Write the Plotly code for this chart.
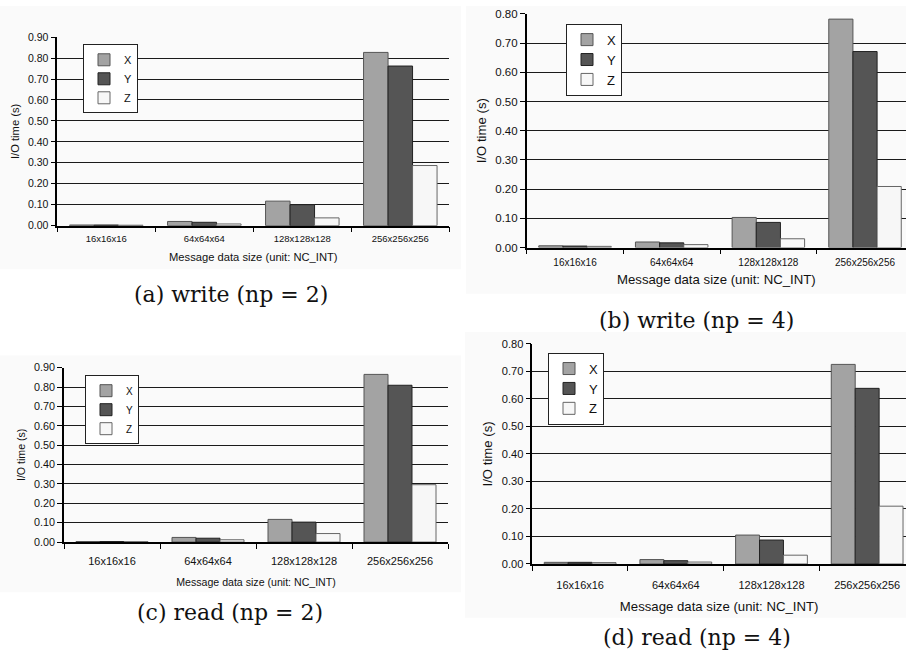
import plotly.graph_objects as go

W, H = 906, 661

categories = ["16x16x16", "64x64x64", "128x128x128", "256x256x256"]
series_names = ["X", "Y", "Z"]

# (a) write, np = 2
write_np2_x = [0.003, 0.020, 0.117, 0.827]
write_np2_y = [0.003, 0.016, 0.100, 0.762]
write_np2_z = [0.002, 0.008, 0.037, 0.287]
# (b) write, np = 4
write_np4_x = [0.006, 0.019, 0.103, 0.782]
write_np4_y = [0.005, 0.016, 0.086, 0.671]
write_np4_z = [0.004, 0.010, 0.030, 0.209]
# (c) read, np = 2
read_np2_x = [0.003, 0.024, 0.117, 0.865]
read_np2_y = [0.003, 0.020, 0.103, 0.809]
read_np2_z = [0.002, 0.012, 0.044, 0.296]
# (d) read, np = 4
read_np4_x = [0.006, 0.016, 0.105, 0.725]
read_np4_y = [0.006, 0.012, 0.087, 0.638]
read_np4_z = [0.005, 0.007, 0.032, 0.210]

captions = ["(a) write (np = 2)", "(b) write (np = 4)", "(c) read (np = 2)", "(d) read (np = 4)"]
y_title = "I/O time (s)"
x_title = "Message data size (unit: NC_INT)"

bar_fill = {"X": "#a3a3a3", "Y": "#555555", "Z": "#f7f7f7"}
bar_edge = {"X": "#555555", "Y": "#222222", "Z": "#666666"}

panels = [
    dict(data=[write_np2_x, write_np2_y, write_np2_z], l=57.3, r=449.3, t=31.7, b=223.7,
         xr=3.5, ymax=0.9, tf=10.5, xtf=9.5, ttf=11.2, leg=(83, 39), lf=11, cap=(231, 294),
         tls=3, xso=10),
    dict(data=[write_np4_x, write_np4_y, write_np4_z], l=526.7, r=906, t=8, b=246,
         xr=3.424, ymax=0.8, tf=11.5, xtf=10, ttf=13.2, leg=(566, 18), lf=13, cap=(696, 320),
         tls=5, xso=7),
    dict(data=[read_np2_x, read_np2_y, read_np2_z], l=64, r=448, t=368.3, b=546,
         xr=3.5, ymax=0.9, tf=10.8, xtf=11, ttf=10.6, leg=(85, 376), lf=10, cap=(230, 618),
         tls=8, xso=13),
    dict(data=[read_np4_x, read_np4_y, read_np4_z], l=532.3, r=906, t=344, b=568.3,
         xr=3.406, ymax=0.8, tf=11.1, xtf=11, ttf=13.2, leg=(548, 353), lf=13, cap=(697, 643),
         tls=10, xso=12),
]

bg_rects = [(0, 0, 461, 268), (466, 0, 906, 293), (0, 356, 461, 597), (465, 332, 906, 623)]

fig = go.Figure()
layout = dict(
    width=W, height=H, margin=dict(l=0, r=0, t=0, b=0),
    paper_bgcolor="white", plot_bgcolor="white",
    barmode="group", bargap=0.25, bargroupgap=0.0,
    font=dict(family="Liberation Sans, Arial, sans-serif", color="#111111"),
    shapes=[], annotations=[],
)

for i, p in enumerate(panels):
    n = "" if i == 0 else str(i + 1)
    xa, ya = "x" + n, "y" + n
    legname = "legend" + n
    for s, vals in zip(series_names, p["data"]):
        fig.add_trace(go.Bar(
            x=categories, y=vals, name=s, xaxis=xa, yaxis=ya, legend=legname,
            marker=dict(color=bar_fill[s], line=dict(color=bar_edge[s], width=1)),
            showlegend=True,
        ))
    layout["xaxis" + n] = dict(
        domain=[p["l"] / W, p["r"] / W], anchor=ya, type="category",
        range=[-0.5, p["xr"]], showgrid=False, showline=True, linecolor="black",
        linewidth=1.5, ticks="outside", tickson="boundaries", ticklen=5,
        tickcolor="black", tickfont=dict(size=p["xtf"]), ticklabeloverflow="allow",
        ticklabelstandoff=p["tls"],
        title=dict(text=x_title, font=dict(size=p["ttf"]), standoff=p["xso"]),
        fixedrange=True,
    )
    layout["yaxis" + n] = dict(
        domain=[1 - p["b"] / H, 1 - p["t"] / H], anchor=xa,
        range=[0, p["ymax"]], dtick=0.1, tickformat=".2f",
        showgrid=True, gridcolor="#1a1a1a", gridwidth=1, zeroline=False,
        showline=True, linecolor="black", linewidth=1.5, ticks="outside",
        ticklen=5, tickcolor="black", tickfont=dict(size=p["tf"]),
        title=dict(text=y_title, font=dict(size=p["ttf"]), standoff=6),
        fixedrange=True,
    )
    layout[legname] = dict(
        x=p["leg"][0] / W, y=1 - p["leg"][1] / H, xanchor="left", yanchor="top",
        bgcolor="white", bordercolor="#222222", borderwidth=1,
        font=dict(size=p["lf"]), itemwidth=30, tracegroupgap=0,
        itemclick=False, itemdoubleclick=False,
    )
    layout["annotations"].append(dict(
        text=captions[i], x=p["cap"][0] / W, y=1 - p["cap"][1] / H,
        xref="paper", yref="paper", xanchor="center", yanchor="middle",
        showarrow=False, font=dict(family="DejaVu Serif, serif", size=22, color="#111111"),
    ))

for (x0, y0, x1, y1) in bg_rects:
    layout["shapes"].append(dict(
        type="rect", xref="paper", yref="paper", layer="below",
        x0=x0 / W, x1=x1 / W, y0=1 - y1 / H, y1=1 - y0 / H,
        fillcolor="#fafafa", line=dict(width=0),
    ))

fig.update_layout(**layout)
fig.write_html(
    "out.html",
    config={"displayModeBar": False},
    post_script="document.body.style.margin='0';document.body.style.overflow='hidden';",
)
